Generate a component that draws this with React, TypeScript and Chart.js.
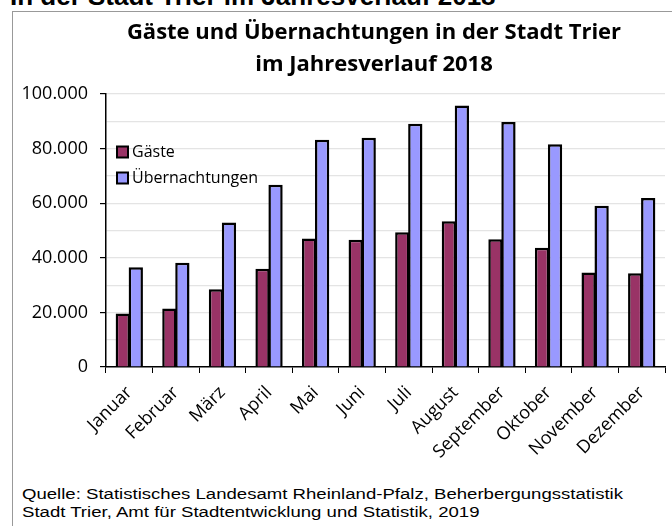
import React, { useEffect, useRef } from "react";
import { Chart, registerables } from "chart.js";

Chart.register(...registerables);

const months = ["Januar", "Februar", "März", "April", "Mai", "Juni", "Juli", "August", "September", "Oktober", "November", "Dezember"];
const gaeste = [19600, 21400, 28500, 36000, 47100, 46600, 49400, 53400, 46800, 43700, 34600, 34300];
const uebernachtungen = [36500, 38200, 52900, 66800, 83200, 84000, 89100, 95800, 89700, 81600, 59100, 61900];
const seriesLabels = ["Gäste", "Übernachtungen"];
const titleLines = ["Gäste und Übernachtungen in der Stadt Trier", "im Jahresverlauf 2018"];
const headerText = "In der Stadt Trier im Jahresverlauf 2018";
const sourceLines = [
  "Quelle: Statistisches Landesamt Rheinland-Pfalz, Beherbergungsstatistik",
  "Stadt Trier, Amt für Stadtentwicklung und Statistik, 2019",
];

const FONT = "'Open Sans', 'Noto Sans', sans-serif";

function fmt(v: number): string {
  return String(v).replace(/\B(?=(\d{3})+(?!\d))/g, ".");
}

const titlePlugin = {
  id: "customTitle",
  afterDraw(chart: any) {
    const { ctx } = chart;
    ctx.save();
    ctx.font = `bold 22px ${FONT}`;
    ctx.fillStyle = "#000";
    ctx.textAlign = "center";
    ctx.textBaseline = "alphabetic";
    titleLines.forEach((line, i) => {
      ctx.fillText(line, 361, 26 + i * 32);
    });
    ctx.restore();
  },
};

const legendPlugin = {
  id: "innerLegend",
  afterDraw(chart: any) {
    const { ctx, chartArea } = chart;
    const x0 = chartArea.left + 11;
    let y = chartArea.top + 58;
    ctx.save();
    ctx.font = `16px ${FONT}`;
    ctx.textBaseline = "middle";
    ctx.textAlign = "left";
    chart.data.datasets.forEach((ds: any) => {
      ctx.fillStyle = ds.backgroundColor;
      ctx.fillRect(x0, y - 5.5, 11, 11);
      ctx.lineWidth = 2;
      ctx.strokeStyle = "#000";
      ctx.strokeRect(x0, y - 5.5, 11, 11);
      ctx.fillStyle = "#000";
      ctx.fillText(ds.label, x0 + 15, y);
      y += 26;
    });
    ctx.restore();
  },
};

export default function App() {
  const ref = useRef<HTMLCanvasElement>(null);
  useEffect(() => {
    if (!ref.current) return;
    const chart = new Chart(ref.current, {
      type: "bar",
      data: {
        labels: months,
        datasets: [
          {
            label: seriesLabels[0],
            data: gaeste,
            backgroundColor: "#993366",
            borderColor: "#000",
            borderWidth: 2.5,
            categoryPercentage: 0.558,
            barPercentage: 1.1,
          },
          {
            label: seriesLabels[1],
            data: uebernachtungen,
            backgroundColor: "#9999FF",
            borderColor: "#000",
            borderWidth: 2.5,
            categoryPercentage: 0.558,
            barPercentage: 1.1,
          },
        ],
      },
      options: {
        animation: false,
        responsive: true,
        maintainAspectRatio: false,
        layout: { padding: { left: 0, right: 7, top: 81, bottom: 0 } },
        plugins: {
          legend: { display: false },
          tooltip: { enabled: false },
          title: { display: false },
        },
        scales: {
          x: {
            offset: true,
            border: { display: true, color: "#000", width: 1.5 },
            grid: {
              offset: true,
              drawOnChartArea: false,
              drawTicks: true,
              tickLength: 6,
              tickColor: "#000",
              color: "#000",
            },
            ticks: {
              color: "#000",
              font: { family: FONT, size: 18 },
              maxRotation: 45,
              minRotation: 45,
              padding: 9,
            },
            afterFit(scale: any) {
              scale.height = 116;
            },
          },
          y: {
            min: 0,
            max: 100000,
            border: { display: true, color: "#000", width: 1.5 },
            grid: {
              color: (c: any) => (c.tick && c.tick.value === 0 ? "rgba(0,0,0,0)" : "#e4e4e4"),
              lineWidth: 1.2,
              tickLength: 6,
              tickColor: (c: any) => (c.tick && c.tick.value % 20000 === 0 ? "#000" : "rgba(0,0,0,0)"),
            },
            ticks: {
              stepSize: 10000,
              color: "#000",
              font: { family: FONT, size: 18 },
              padding: 12,
              callback: (v: any) => (Number(v) % 20000 === 0 ? fmt(Number(v)) : ""),
            },
            afterFit(scale: any) {
              scale.width = 93;
            },
          },
        },
      },
      plugins: [titlePlugin, legendPlugin],
    });
    return () => chart.destroy();
  }, []);

  return (
    <div style={{ position: "fixed", left: 0, top: 0, width: 672, height: 526, overflow: "hidden", background: "#fff" }}>
      <div
        style={{
          position: "absolute",
          left: 10,
          top: -17,
          fontFamily: "'Liberation Sans', Arial, sans-serif",
          fontWeight: "bold",
          fontSize: 26,
          lineHeight: "26px",
          whiteSpace: "nowrap",
          color: "#000",
        }}
      >
        {headerText}
      </div>
      <div
        style={{
          position: "absolute",
          left: 12,
          top: 11,
          width: 800,
          height: 800,
          borderLeft: "1.5px solid #999",
          borderTop: "1.5px solid #999",
        }}
      />
      <div style={{ position: "absolute", left: 13, top: 13, width: 659, height: 470 }}>
        <canvas ref={ref} />
      </div>
      <div
        style={{
          position: "absolute",
          left: 22,
          top: 485,
          fontFamily: "'Liberation Sans', Arial, sans-serif",
          fontSize: 14,
          lineHeight: "18px",
          whiteSpace: "nowrap",
          color: "#000",
          transform: "scaleX(1.327)",
          transformOrigin: "left top",
        }}
      >
        {sourceLines.map((l, i) => (
          <div key={i}>{l}</div>
        ))}
      </div>
    </div>
  );
}
